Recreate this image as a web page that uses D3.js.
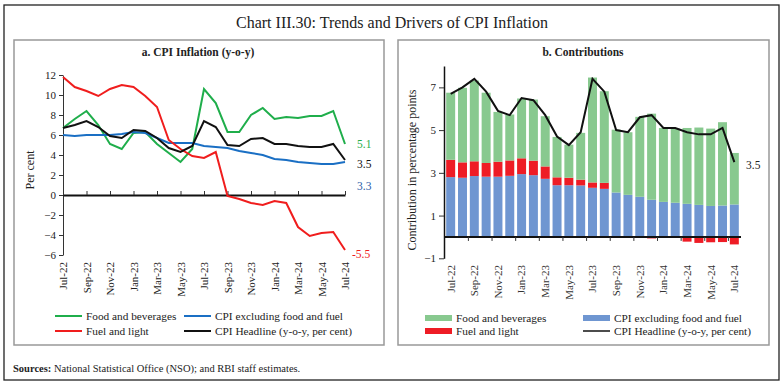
<!DOCTYPE html>
<html>
<head>
<meta charset="utf-8">
<script src="https://cdn.jsdelivr.net/npm/d3@7"></script>
<style>
  body { margin: 0; background: #fff; }
  text { font-family: "Liberation Serif", "DejaVu Serif", serif; fill: #222; }
</style>
</head>
<body>
<div id="chart"></div>
<script>
// months shown on both panels
const months = ['Jul-22', 'Aug-22', 'Sep-22', 'Oct-22', 'Nov-22', 'Dec-22', 'Jan-23', 'Feb-23', 'Mar-23',
  'Apr-23', 'May-23', 'Jun-23', 'Jul-23', 'Aug-23', 'Sep-23', 'Oct-23', 'Nov-23', 'Dec-23', 'Jan-24',
  'Feb-24', 'Mar-24', 'Apr-24', 'May-24', 'Jun-24', 'Jul-24'];

// panel a: y-o-y inflation, per cent
const foodInfl = [6.7, 7.6, 8.4, 7.0, 5.1, 4.6, 6.2, 6.3, 5.1, 4.2, 3.3, 4.6, 10.6, 9.2, 6.3, 6.3, 8.0, 8.7, 7.6, 7.8, 7.7, 7.9, 7.9, 8.4, 5.1];
const coreInfl = [6.0, 5.9, 6.0, 6.0, 6.0, 6.1, 6.3, 6.2, 5.7, 5.2, 5.2, 5.2, 4.9, 4.8, 4.7, 4.4, 4.2, 4.0, 3.6, 3.5, 3.3, 3.2, 3.1, 3.1, 3.3];
const fuelInfl = [11.8, 10.8, 10.4, 9.9, 10.6, 11.0, 10.8, 9.9, 8.8, 5.5, 4.6, 3.9, 3.7, 4.3, -0.1, -0.4, -0.8, -1.0, -0.6, -0.8, -3.2, -4.1, -3.8, -3.7, -5.5];
const headline = [6.7, 7.0, 7.4, 6.8, 5.9, 5.7, 6.5, 6.4, 5.7, 4.7, 4.3, 4.9, 7.4, 6.8, 5.0, 4.9, 5.6, 5.7, 5.1, 5.1, 4.9, 4.8, 4.8, 5.1, 3.5];

// panel b: contributions, percentage points
const coreContrib = [2.80, 2.77, 2.85, 2.82, 2.82, 2.86, 2.94, 2.89, 2.72, 2.42, 2.42, 2.41, 2.30, 2.25, 2.08, 1.97, 1.88, 1.74, 1.64, 1.60, 1.55, 1.50, 1.45, 1.47, 1.52];
const fuelContrib = [0.81, 0.72, 0.69, 0.64, 0.70, 0.72, 0.74, 0.68, 0.58, 0.37, 0.35, 0.27, 0.25, 0.28, -0.01, -0.03, -0.05, -0.07, -0.04, -0.05, -0.22, -0.28, -0.25, -0.24, -0.35];
const foodContrib = [3.14, 3.49, 3.78, 3.29, 2.33, 2.15, 2.80, 2.86, 2.35, 1.89, 1.55, 2.19, 4.91, 4.29, 2.94, 2.93, 3.74, 4.03, 3.46, 3.47, 3.55, 3.62, 3.62, 3.90, 2.41];

const leftTicks = [-6, -4, -2, 0, 2, 4, 6, 8, 10, 12];
const rightTicks = [-1, 1, 3, 5, 7];

const width = 784;
const height = 385;

const svg = d3.select('#chart')
  .append('svg')
  .attr('width', width)
  .attr('height', height);

// frames
svg.append('rect')
  .attr('x', 4).attr('y', 5).attr('width', 775).attr('height', 375)
  .attr('fill', 'none').attr('stroke', '#222').attr('stroke-width', 1.3);
svg.append('rect')
  .attr('x', 14).attr('y', 40).attr('width', 370).attr('height', 305)
  .attr('fill', 'none').attr('stroke', '#999').attr('stroke-width', 1.5);
svg.append('rect')
  .attr('x', 398).attr('y', 40).attr('width', 371).attr('height', 305)
  .attr('fill', 'none').attr('stroke', '#999').attr('stroke-width', 1.5);

svg.append('text')
  .attr('x', 392).attr('y', 28)
  .attr('text-anchor', 'middle')
  .attr('font-size', 16)
  .text('Chart III.30: Trends and Drivers of CPI Inflation');

svg.append('text')
  .attr('x', 198).attr('y', 56)
  .attr('text-anchor', 'middle')
  .attr('font-size', 11.5)
  .attr('font-weight', 'bold')
  .text('a. CPI  Inflation (y-o-y)');

svg.append('text')
  .attr('x', 583).attr('y', 56)
  .attr('text-anchor', 'middle')
  .attr('font-size', 11.5)
  .attr('font-weight', 'bold')
  .text('b. Contributions');

const sources = svg.append('text')
  .attr('x', 13).attr('y', 372)
  .attr('font-size', 10.5);
sources.append('tspan').attr('font-weight', 'bold').text('Sources:');
sources.append('tspan').text(' National Statistical Office (NSO); and RBI staff estimates.');

const everyOther = months.filter((m, i) => i % 2 === 0);

// ---------- panel a ----------
const xa = d3.scalePoint().domain(months).range([63, 345]);
const ya = d3.scaleLinear().domain([-6, 12]).range([255, 75]);

const gyA = svg.append('g')
  .attr('transform', 'translate(63,0)')
  .call(d3.axisLeft(ya).tickValues(leftTicks).tickSize(4).tickSizeOuter(0).tickFormat(d3.format('d')));
gyA.selectAll('text').attr('font-size', 11).attr('fill', '#333');
gyA.select('.domain').attr('stroke', '#333');
gyA.selectAll('.tick line').attr('stroke', '#333');

const gxA = svg.append('g')
  .attr('transform', `translate(0,${ya(0)})`)
  .call(d3.axisBottom(xa).tickValues(everyOther).tickSizeInner(-4).tickSizeOuter(0));
gxA.select('.domain').attr('stroke', '#111').attr('stroke-width', 2);
gxA.selectAll('.tick line').attr('stroke', '#333');
gxA.selectAll('text')
  .attr('y', null).attr('dy', '0.35em')
  .attr('transform', `translate(0,${262 - ya(0)}) rotate(-90)`)
  .attr('text-anchor', 'end')
  .attr('font-size', 11)
  .attr('fill', '#333');

svg.append('text')
  .attr('transform', 'translate(34,170) rotate(-90)')
  .attr('text-anchor', 'middle')
  .attr('font-size', 12)
  .text('Per cent');

const seriesA = [
  { name: 'Food and beverages', values: foodInfl, color: '#1fae4b' },
  { name: 'CPI excluding food and fuel', values: coreInfl, color: '#1a6fc4' },
  { name: 'Fuel and light', values: fuelInfl, color: '#f01d1d' },
  { name: 'CPI Headline (y-o-y, per cent)', values: headline, color: '#111' }
];

const lineA = d3.line()
  .x((d, i) => xa(months[i]))
  .y(d => ya(d));

svg.append('g')
  .selectAll('path')
  .data(seriesA)
  .enter().append('path')
  .attr('d', d => lineA(d.values))
  .attr('fill', 'none')
  .attr('stroke', d => d.color)
  .attr('stroke-width', 2);

// end labels of panel a
const endLabels = [
  { text: '5.1', v: 5.1, dy: 0, color: '#1fae4b' },
  { text: '3.5', v: 3.5, dy: 4, color: '#111' },
  { text: '3.3', v: 3.3, dy: 24, color: '#2a5ca8' },
  { text: '-5.5', v: -5.5, dy: 4, color: '#f01d1d' }
];
svg.append('g')
  .selectAll('text')
  .data(endLabels)
  .enter().append('text')
  .attr('x', d => d.text.startsWith('-') ? 352 : 357)
  .attr('y', d => ya(d.v) + d.dy)
  .attr('dy', '0.35em')
  .attr('font-size', 11.5)
  .style('fill', d => d.color)
  .text(d => d.text);

// legend a
const legA = [
  { s: seriesA[0], x: 55, y: 316 },
  { s: seriesA[1], x: 184, y: 316 },
  { s: seriesA[2], x: 55, y: 331 },
  { s: seriesA[3], x: 184, y: 331 }
];
const legAg = svg.append('g').selectAll('g').data(legA).enter().append('g');
legAg.append('line')
  .attr('x1', d => d.x).attr('x2', d => d.x + 27)
  .attr('y1', d => d.y).attr('y2', d => d.y)
  .attr('stroke', d => d.s.color).attr('stroke-width', 2);
legAg.append('text')
  .attr('x', d => d.x + 31).attr('y', d => d.y)
  .attr('dy', '0.35em')
  .attr('font-size', 11.3)
  .text(d => d.s.name);

// ---------- panel b ----------
const xb = d3.scaleBand().domain(months).range([445, 740]).paddingInner(0.24).paddingOuter(0.1);
const yb = d3.scaleLinear().domain([-1, 8]).range([258.3, 66]);

const table = months.map((m, i) => ({
  month: m,
  core: coreContrib[i],
  fuel: fuelContrib[i],
  food: foodContrib[i]
}));

const colorsB = { core: '#6f96d1', fuel: '#ee1c25', food: '#88c98f' };

const stacked = d3.stack()
  .keys(['core', 'fuel', 'food'])
  .offset(d3.stackOffsetDiverging)(table);

svg.append('g')
  .selectAll('g')
  .data(stacked)
  .enter().append('g')
  .attr('fill', d => colorsB[d.key])
  .selectAll('rect')
  .data(d => d)
  .enter().append('rect')
  .attr('x', d => xb(d.data.month))
  .attr('width', xb.bandwidth())
  .attr('y', d => yb(d[1]))
  .attr('height', d => Math.max(0, yb(d[0]) - yb(d[1])));

const gyB = svg.append('g')
  .attr('transform', 'translate(444,0)')
  .call(d3.axisLeft(yb).tickValues(rightTicks).tickSize(5).tickSizeOuter(0));
gyB.select('.domain').attr('stroke', '#111').attr('stroke-width', 1.5);
gyB.selectAll('.tick line').attr('stroke', '#333');
gyB.selectAll('text').attr('font-size', 11).attr('fill', '#333');

// zero line, small tick marks between every second month, rotated labels
svg.append('line')
  .attr('x1', 444).attr('x2', 741)
  .attr('y1', yb(0)).attr('y2', yb(0))
  .attr('stroke', '#111').attr('stroke-width', 2);

svg.append('g')
  .selectAll('line')
  .data(months.filter((m, i) => i % 2 === 1 && i < months.length - 1))
  .enter().append('line')
  .attr('x1', d => xb(d) + xb.step() - (xb.step() - xb.bandwidth()) / 2)
  .attr('x2', d => xb(d) + xb.step() - (xb.step() - xb.bandwidth()) / 2)
  .attr('y1', yb(0)).attr('y2', yb(0) + 4)
  .attr('stroke', '#333');

svg.append('g')
  .selectAll('text')
  .data(everyOther)
  .enter().append('text')
  .attr('transform', d => `translate(${xb(d) + xb.bandwidth() / 2},265) rotate(-90)`)
  .attr('text-anchor', 'end')
  .attr('dy', '0.35em')
  .attr('font-size', 11)
  .style('fill', '#333')
  .text(d => d);

svg.append('text')
  .attr('transform', 'translate(416,170) rotate(-90)')
  .attr('text-anchor', 'middle')
  .attr('font-size', 12)
  .text('Contribution in percentage points');

const lineB = d3.line()
  .x((d, i) => xb(months[i]) + xb.bandwidth() / 2)
  .y(d => yb(d));

svg.append('path')
  .attr('d', lineB(headline))
  .attr('fill', 'none')
  .attr('stroke', '#111')
  .attr('stroke-width', 2);

svg.append('text')
  .attr('x', 746).attr('y', yb(3.5) + 3)
  .attr('dy', '0.35em')
  .attr('font-size', 11.5)
  .text('3.5');

// legend b
const legB = [
  { name: 'Food and beverages', key: 'food', x: 425, y: 318 },
  { name: 'CPI excluding food and fuel', key: 'core', x: 583, y: 318 },
  { name: 'Fuel and light', key: 'fuel', x: 425, y: 331 }
];
const legBg = svg.append('g').selectAll('g').data(legB).enter().append('g');
legBg.append('rect')
  .attr('x', d => d.x).attr('y', d => d.y - 3)
  .attr('width', 27).attr('height', 6)
  .attr('fill', d => colorsB[d.key]);
legBg.append('text')
  .attr('x', d => d.x + 31).attr('y', d => d.y)
  .attr('dy', '0.35em')
  .attr('font-size', 11.3)
  .text(d => d.name);

svg.append('line')
  .attr('x1', 583).attr('x2', 610)
  .attr('y1', 331).attr('y2', 331)
  .attr('stroke', '#111').attr('stroke-width', 1.5);
svg.append('text')
  .attr('x', 614).attr('y', 331)
  .attr('dy', '0.35em')
  .attr('font-size', 11.3)
  .text('CPI Headline (y-o-y, per cent)');
</script>
</body>
</html>
